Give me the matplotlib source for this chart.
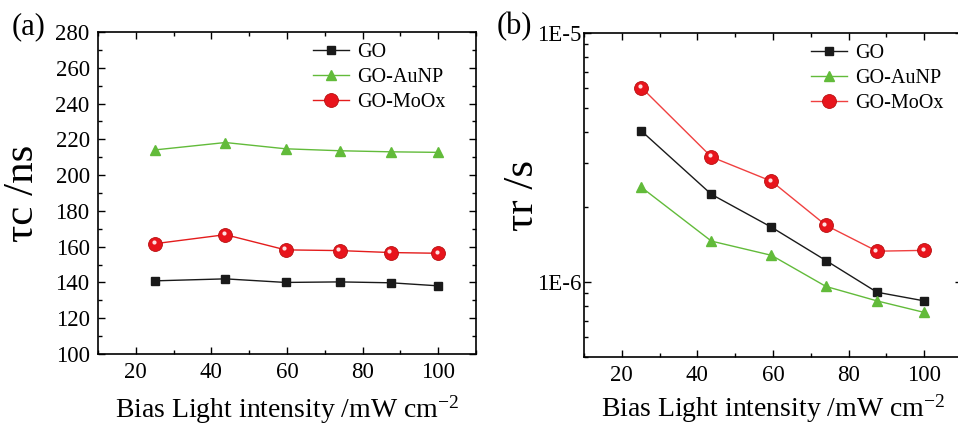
import numpy as np
import matplotlib.pyplot as plt
from matplotlib.transforms import offset_copy
from matplotlib.ticker import MultipleLocator, LogLocator, NullFormatter, FixedLocator, FixedFormatter

plt.rcParams['font.family'] = ['Liberation Serif', 'DejaVu Serif']
plt.rcParams['mathtext.fontset'] = 'stix'

intensity = [25.2, 43.7, 59.6, 74.0, 87.5, 100.0]

# (a) charge collection time, ns
tc_go = [140.9, 142.0, 140.0, 140.3, 139.8, 138.1]
tc_aunp = [214.1, 218.2, 214.7, 213.6, 213.0, 212.7]
tc_moox = [161.7, 166.7, 158.2, 157.8, 156.7, 156.3]

# (b) recombination time, s
tr_go = [4.04e-6, 2.25e-6, 1.66e-6, 1.22e-6, 0.91e-6, 0.84e-6]
tr_aunp = [2.40e-6, 1.46e-6, 1.28e-6, 0.96e-6, 0.84e-6, 0.755e-6]
tr_moox = [6.04e-6, 3.18e-6, 2.54e-6, 1.69e-6, 1.33e-6, 1.34e-6]

BLACK = '#1a1a1a'
GREEN = '#62bb3a'
RED = '#e41c1c'


def draw(ax, go, aunp, moox, legend_x, moox_line=RED, xpad=7):
    ax.plot(intensity, go, '-s', color=BLACK, lw=1, ms=6, label='GO')
    ax.plot(intensity, aunp, '-^', color=GREEN, lw=1, ms=7.5, label='GO-AuNP')
    ax.plot(intensity, moox, '-o', color=moox_line, lw=1, ms=10, mfc='#e8141c',
            mec='#b81010', mew=0.6, label='GO-MoOx')
    # small shine on the red spheres, nudged up and left
    shine = offset_copy(ax.transData, fig=ax.figure, x=-1.2, y=1.2, units='points')
    ax.plot(intensity, moox, 'o', color='#ffe0e0', ms=3, mew=0, zorder=5,
            transform=shine)
    ax.set_xlim(10, 110)
    ax.xaxis.set_major_locator(MultipleLocator(20))
    ax.xaxis.set_minor_locator(MultipleLocator(10))
    ax.tick_params(which='both', direction='in', top=True, right=True,
                   labelsize=16.5, width=1)
    ax.tick_params(which='major', length=5, pad=6)
    ax.tick_params(which='minor', length=3)
    for s in ax.spines.values():
        s.set_linewidth(1.2)
    ax.set_xlabel('Bias Light intensity /mW cm$^{\\mathregular{-2}}$', fontsize=20, labelpad=xpad)
    ax.legend(loc='upper right', frameon=False, fontsize=14.5, handlelength=1.8,
              handletextpad=0.4, labelspacing=0.3, borderaxespad=0.15,
              bbox_to_anchor=(legend_x, 1.0))


fig = plt.figure(figsize=(9.58, 4.26), dpi=100)

ax1 = fig.add_axes([0.1023, 0.169, 0.3946, 0.756])
draw(ax1, tc_go, tc_aunp, tc_moox, legend_x=0.95)
ax1.set_ylim(100, 280)
ax1.yaxis.set_major_locator(MultipleLocator(20))
ax1.yaxis.set_minor_locator(MultipleLocator(10))
ax1.set_ylabel('τc /ns', fontsize=31, labelpad=10)
fig.text(0.012, 0.937, '(a)', fontsize=22, va='center')

ax2 = fig.add_axes([0.6096, 0.162, 0.3946, 0.7605])
draw(ax2, tr_go, tr_aunp, tr_moox, legend_x=0.98, moox_line='#f04040', xpad=4)
ax2.set_yscale('log')
ax2.set_ylim(5e-7, 1e-5)
ax2.yaxis.set_major_locator(FixedLocator([1e-6, 1e-5]))
ax2.yaxis.set_major_formatter(FixedFormatter(['1E-6', '1E-5']))
ax2.yaxis.set_minor_locator(LogLocator(base=10, subs=np.arange(2, 10)))
ax2.yaxis.set_minor_formatter(NullFormatter())
ax2.tick_params(axis='y', which='major', pad=2)
ax2.set_ylabel('τr /s', fontsize=31, labelpad=-4)
fig.text(0.518, 0.937, '(b)', fontsize=22, va='center')

fig.savefig('out.png', dpi=100)
